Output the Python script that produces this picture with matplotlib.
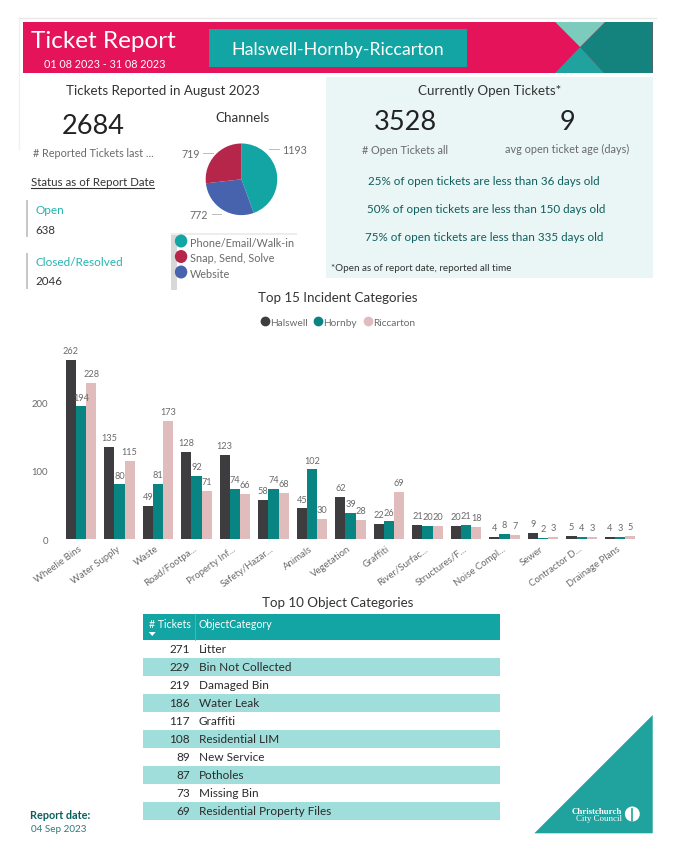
import numpy as np
from matplotlib import pyplot as plt
from matplotlib.lines import Line2D
from matplotlib.patches import Polygon, Rectangle, Ellipse
from matplotlib.transforms import ScaledTranslation

W, H = 675, 862
X_SCALE = 0.995

incident_categories = [
    "Wheelie Bins", "Water Supply", "Waste", "Road/Footpa...", "Property Inf...",
    "Safety/Hazar...", "Animals", "Vegetation", "Graffiti", "River/Surfac...",
    "Structures/F...", "Noise Compl...", "Sewer", "Contractor D...", "Drainage Plans",
]
halswell = [262, 135, 49, 128, 123, 58, 45, 62, 22, 21, 20, 4, 9, 5, 4]
hornby = [194, 80, 81, 92, 74, 74, 102, 39, 26, 20, 21, 8, 2, 4, 3]
riccarton = [228, 115, 173, 71, 66, 68, 30, 28, 69, 20, 18, 7, 3, 3, 5]

channel_names = ["Phone/Email/Walk-in", "Snap, Send, Solve", "Website"]
channel_values = [1193, 772, 719]

object_tickets = [271, 229, 219, 186, 117, 108, 89, 87, 73, 69]
object_categories = [
    "Litter", "Bin Not Collected", "Damaged Bin", "Water Leak", "Graffiti",
    "Residential LIM", "New Service", "Potholes", "Missing Bin",
    "Residential Property Files",
]

TEAL = "#12A5A3"
PINK = "#E5135A"
DARK_TEAL = "#0F5E5E"
GREY = "#6A6A6A"
BAR_COLORS = ["#3D3D3F", "#088583", "#E0BCBD"]
PIE_COLORS = ["#12A5A3", "#4763AE", "#B5264A"]

plt.rcParams["font.family"] = ["Lato", "DejaVu Sans"]


def px_axes(fig, left, top, right, bottom):
    left, right = left * X_SCALE, right * X_SCALE
    return fig.add_axes([left / W, 1 - bottom / H, (right - left) / W, (bottom - top) / H])


fig = plt.figure(figsize=(W / 100, H / 100), dpi=100)

# page overlay in pixel coordinates
page = fig.add_axes([0, 0, 1, 1])
page.set_xlim(0, W / X_SCALE)
page.set_ylim(H, 0)
page.axis("off")


def txt(x, y, s, size, color="#333333", ha="center", **kw):
    page.text(x, y, s, fontsize=size, color=color, ha=ha, va="center", **kw)


def box(x0, y0, x1, y1, color):
    page.add_patch(Rectangle((x0, y0), x1 - x0, y1 - y0, facecolor=color, edgecolor="none"))


# header
page.plot([19, 659], [18.5, 18.5], color="#E8E8E8", lw=1)
page.plot([19.5, 19.5], [18, 150], color="#F0F0F0", lw=1)
box(23, 23, 656, 74, PINK)
page.add_patch(Polygon([(608, 23), (656, 23), (656, 74), (607, 74), (583, 48)], facecolor="#14837E"))
page.add_patch(Polygon([(558, 23), (608, 23), (583, 48)], facecolor="#7CCBBC"))
page.add_patch(Polygon([(558, 74), (607, 74), (583, 48)], facecolor="#20A39E"))
box(210, 30, 469.5, 68, TEAL)
txt(31, 41, "Ticket Report", 17.5, "white", ha="left")
txt(105, 64, "01 08 2023 - 31 08 2023", 7.8, "white")
txt(339.5, 50, "Halswell-Hornby-Riccarton", 12.8, "white")

# left block
txt(164, 91, "Tickets Reported in August 2023", 9.6)
txt(93.5, 126.7, "2684", 19.5, "#222222")
txt(93.7, 153.6, "# Reported Tickets last ...", 7.8, GREY)
txt(30.7, 182.7, "Status as of Report Date", 8.3, ha="left")
page.plot([30.7, 155], [188.5, 188.5], color="#333333", lw=0.8)
box(26, 201, 28, 238, "#C8C8C8")
box(26, 254, 28, 290, "#C8C8C8")
txt(36, 210.5, "Open", 8.5, "#25B5B0", ha="left")
txt(36, 230.5, "638", 8.3, ha="left")
txt(36, 262.5, "Closed/Resolved", 8.5, "#25B5B0", ha="left")
txt(36, 282, "2046", 8.3, ha="left")

# channels
txt(244, 118, "Channels", 9.6)
page.plot([270, 280], [150, 150], color="#BBBBBB", lw=0.7)
page.plot([204, 214], [154, 154], color="#BBBBBB", lw=0.7)
page.plot([213, 222], [214.5, 214.5], color="#BBBBBB", lw=0.7)
txt(283.4, 150.5, str(channel_values[0]), 7.7, GREY, ha="left")
txt(200.8, 154, str(channel_values[2]), 7.7, GREY, ha="right")
txt(209.4, 216, str(channel_values[1]), 7.7, GREY, ha="right")
box(171.5, 234, 177.5, 291, "#D8D8D8")
box(171.5, 234, 298, 236, "#EDEDED")
legend_colors = [PIE_COLORS[0], PIE_COLORS[2], PIE_COLORS[1]]
for i, name in enumerate(channel_names):
    y = 242 + 15.5 * i
    page.add_patch(Ellipse((182, y), 12.5, 13, facecolor=legend_colors[i]))
    txt(191, y + 1.5, name, 7.8, GREY, ha="left")

pie_ax = px_axes(fig, 206.7, 144.3, 278.7, 216.3)
pie_ax.pie(channel_values, colors=PIE_COLORS, startangle=90, counterclock=False, radius=1,
           wedgeprops={"linewidth": 0})
pie_ax.set_xlim(-1, 1)
pie_ax.set_ylim(-1, 1)

# open tickets panel
box(327.6, 78, 656, 279, "#E9F6F5")
txt(491.6, 91, "Currently Open Tickets*", 9.6)
txt(407, 123, "3528", 19.5, "#222222")
txt(570, 123, "9", 19.5, "#222222")
txt(407, 150.7, "# Open Tickets all", 7.8, GREY)
txt(570, 149.7, "avg open ticket age (days)", 7.8, GREY)
txt(486, 181.7, "25% of open tickets are less than 36 days old", 8.4, DARK_TEAL)
txt(489, 210, "50% of open tickets are less than 150 days old", 8.4, DARK_TEAL)
txt(487, 237.5, "75% of open tickets are less than 335 days old", 8.4, DARK_TEAL)
txt(332.7, 269, "*Open as of report date, reported all time", 7.1, "#333333", ha="left")

# incident chart
txt(339, 298, "Top 15 Incident Categories", 9.6)
ax = px_axes(fig, 62, 340, 642.6, 540.3)
ax.patch.set_alpha(0)
x = np.arange(len(incident_categories))
bar_w = 0.265
for i, (vals, name) in enumerate(zip([halswell, hornby, riccarton], ["Halswell", "Hornby", "Riccarton"])):
    bars = ax.bar(x + (i - 1) * bar_w, vals, bar_w, color=BAR_COLORS[i], label=name)
    ax.bar_label(bars, padding=3.5, fontsize=6.6, color=GREY)
ax.set_xlim(-0.5, 14.5)
ax.set_ylim(0, 292.4)
ax.set_yticks([0, 100, 200])
ax.set_xticks(x)
ax.set_xticklabels(incident_categories, rotation=36, ha="right", rotation_mode="anchor",
                   fontsize=6.9, color=GREY)
ax.tick_params(axis="both", length=0, labelsize=6.9, labelcolor=GREY)
ax.tick_params(axis="x", pad=3)
ax.tick_params(axis="y", pad=10)
shift = ScaledTranslation(-3 / 100, 0, fig.dpi_scale_trans)
for lab in ax.get_xticklabels():
    lab.set_transform(lab.get_transform() + shift)
for s in ax.spines.values():
    s.set_visible(False)

handles = [Line2D([], [], marker="o", ls="", ms=6, color=c) for c in BAR_COLORS]
fig.legend(handles, ["Halswell", "Hornby", "Riccarton"], ncol=3, frameon=False, fontsize=7.3,
           labelcolor=GREY, loc="center", bbox_to_anchor=(335 / W, 1 - 323 / H),
           handletextpad=-0.5, columnspacing=0.1, borderpad=0)

# object table
txt(339, 602.7, "Top 10 Object Categories", 9.6)
box(143.7, 615, 503, 640.7, TEAL)
page.plot([195.6, 195.6], [615, 640.7], color="#4DBBB8", lw=0.6)
txt(149.3, 624.7, "# Tickets", 7.6, "white", ha="left")
txt(199.5, 624.7, "ObjectCategory", 7.6, "white", ha="left")
page.add_patch(Polygon([(149.5, 633), (156.5, 633), (153, 637)], facecolor="white"))
for i, (n, cat) in enumerate(zip(object_tickets, object_categories)):
    y = 650 + 18 * i
    if i % 2 == 1:
        box(143.7, y - 8.6, 503, y + 8.6, "#A0DEDB")
    txt(190.8, y, str(n), 8.5, "#2A2A2A", ha="right")
    txt(199.5, y, cat, 8.5, "#2A2A2A", ha="left")

# footer
txt(30, 815.7, "Report date:", 7.8, "#0B5F5B", ha="left", fontweight="bold")
txt(31, 829.6, "04 Sep 2023", 7.1, "#2C7A78", ha="left")
page.add_patch(Polygon([(537, 834.3), (656, 716), (656, 834.3)], facecolor="#20A39E"))
txt(625, 812, "Christchurch", 6.4, "white", ha="right", family="Liberation Serif", fontweight="bold")
txt(625, 819.5, "City Council", 6.4, "white", ha="right", family="Liberation Serif")
page.add_patch(Ellipse((635.5, 815), 15, 15, facecolor="white"))
page.plot([635.5, 635.5], [810, 822], color="#20A39E", lw=1.2)

fig.savefig("out.png", dpi=100)
